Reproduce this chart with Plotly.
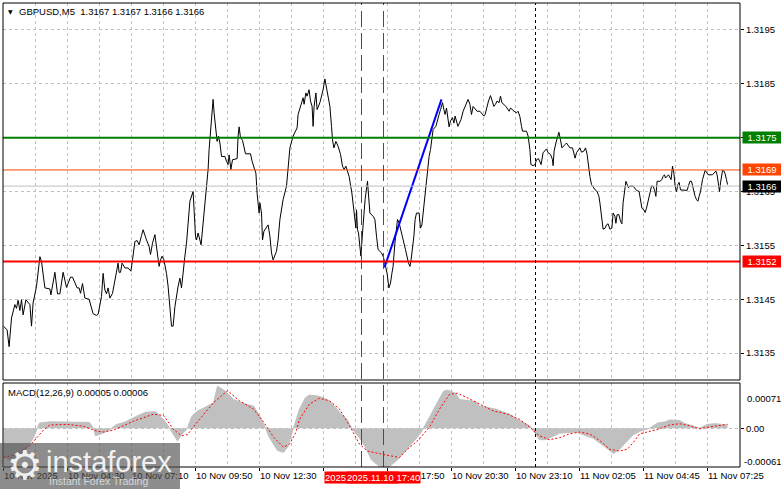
import plotly.graph_objects as go

# ---------------- data ----------------
# bar index (5-minute bars, 0 = 10 Nov 01:50) and close price
price_points = [
    (0, 1.31400), (1.8, 1.31393), (2.8, 1.31362), (4, 1.31415), (5.7, 1.31440), (6.5, 1.31433),
    (7.3, 1.31448), (8.2, 1.31429), (9, 1.31449), (9.8, 1.31421), (11.2, 1.31449), (13.2, 1.31440),
    (14, 1.31400), (14.8, 1.31443), (16.5, 1.31474), (17.3, 1.31505), (18.2, 1.31529), (19, 1.31520),
    (20.7, 1.31471), (23.2, 1.31469), (23.7, 1.31458), (25.7, 1.31500), (27, 1.31460), (28.2, 1.31460),
    (29.8, 1.31500), (31.5, 1.31472), (33.5, 1.31491), (34.5, 1.31491), (36.8, 1.31471), (37.8, 1.31471),
    (38.5, 1.31461), (39.5, 1.31479), (40.7, 1.31452), (42.8, 1.31450), (44.8, 1.31423), (46.5, 1.31420),
    (47.3, 1.31422), (49, 1.31455), (49.8, 1.31498), (50.7, 1.31467), (51.5, 1.31460), (52.3, 1.31471),
    (53.2, 1.31452), (54.5, 1.31461), (55.7, 1.31486), (57.3, 1.31517), (57.8, 1.31500), (58.5, 1.31500),
    (59.3, 1.31517), (60.7, 1.31508), (62.3, 1.31508), (63.7, 1.31502), (64.5, 1.31523), (65.7, 1.31557),
    (66.8, 1.31559), (67.8, 1.31551), (69, 1.31568), (69.8, 1.31579), (71.5, 1.31560), (72.8, 1.31548),
    (73.5, 1.31533), (74.5, 1.31554), (75.7, 1.31570), (76.5, 1.31548), (77, 1.31530), (77.8, 1.31511),
    (78.5, 1.31523), (79.3, 1.31530), (80.2, 1.31523), (81.5, 1.31498), (82.3, 1.31474), (83.2, 1.31436),
    (84, 1.31400), (84.8, 1.31400), (85.7, 1.31436), (87.3, 1.31474), (88.2, 1.31489), (89, 1.31471),
    (89.8, 1.31505), (90.7, 1.31530), (91.5, 1.31554), (92.3, 1.31598), (93.2, 1.31632), (94.8, 1.31650),
    (95.3, 1.31610), (96, 1.31567), (96.5, 1.31560), (97.3, 1.31573), (98.8, 1.31551), (99.8, 1.31591),
    (100.7, 1.31635), (101.5, 1.31672), (102.3, 1.31691), (102.8, 1.31728), (103.5, 1.31765), (104.2, 1.31802),
    (104.8, 1.31821), (105.3, 1.31796), (106.2, 1.31759), (106.8, 1.31743), (107.5, 1.31753), (108.2, 1.31740),
    (109, 1.31715), (110.7, 1.31715), (111.5, 1.31706), (112.3, 1.31700), (112.8, 1.31718), (113.7, 1.31691),
    (114.5, 1.31709), (116.8, 1.31711), (117.3, 1.31753), (117.8, 1.31770), (118.5, 1.31750), (119.5, 1.31745),
    (121, 1.31720), (123.5, 1.31720), (124.3, 1.31706), (125.2, 1.31697), (126.2, 1.31684), (126.8, 1.31647),
    (127.8, 1.31610), (128.2, 1.31629), (129, 1.31610), (129.5, 1.31560), (130.2, 1.31576), (132.3, 1.31588),
    (133.2, 1.31567), (134, 1.31536), (134.8, 1.31523), (136.5, 1.31539), (137.3, 1.31560), (138.2, 1.31598),
    (139.8, 1.31635), (141.5, 1.31660), (142.3, 1.31697), (143.2, 1.31731), (144.8, 1.31753), (146.2, 1.31766),
    (146.8, 1.31768), (147.3, 1.31793), (149, 1.31812), (149.8, 1.31824), (150.3, 1.31812), (151.2, 1.31833),
    (151.8, 1.31827), (152.8, 1.31839), (153.5, 1.31818), (154.3, 1.31808), (154.8, 1.31771), (155.3, 1.31808),
    (156.2, 1.31833), (156.8, 1.31802), (158.2, 1.31815), (159.8, 1.31839), (160.7, 1.31859), (161.5, 1.31843),
    (163.2, 1.31808), (164, 1.31771), (164.5, 1.31746), (165.2, 1.31731), (166.2, 1.31743), (167.3, 1.31734),
    (168.5, 1.31719), (169.5, 1.31697), (170.3, 1.31691), (171.2, 1.31697), (172.8, 1.31678), (174.2, 1.31647),
    (174.8, 1.31629), (175.7, 1.31598), (176.2, 1.31582), (176.5, 1.31616), (177, 1.31579), (177.5, 1.31573),
    (178.2, 1.31542), (178.7, 1.31530), (179.5, 1.31573), (180.2, 1.31610), (180.8, 1.31635), (182, 1.31669),
    (182.5, 1.31647), (183.2, 1.31610), (184.8, 1.31604), (185.7, 1.31598), (186.5, 1.31567), (187.3, 1.31542),
    (189, 1.31536), (189.8, 1.31530), (190.3, 1.31523), (191.2, 1.31505), (191.8, 1.31498), (192.7, 1.31471),
    (193.5, 1.31480), (194.2, 1.31498), (194.8, 1.31511), (195.7, 1.31554), (196.5, 1.31579), (197, 1.31598),
    (197.8, 1.31592), (199.5, 1.31567), (201, 1.31542), (202.5, 1.31517), (203.2, 1.31511), (203.7, 1.31520),
    (204.3, 1.31536), (205.2, 1.31567), (205.8, 1.31598), (206.5, 1.31610), (207.8, 1.31610), (208.5, 1.31582),
    (209.2, 1.31588), (209.8, 1.31610), (210.5, 1.31635), (211.2, 1.31666), (212, 1.31697), (212.8, 1.31715),
    (213.5, 1.31728), (214.2, 1.31753), (214.8, 1.31765), (216.2, 1.31771), (217, 1.31784), (217.8, 1.31793),
    (218.5, 1.31802), (219.5, 1.31815), (220.2, 1.31802), (220.8, 1.31793), (221.5, 1.31805), (222.3, 1.31784),
    (222.8, 1.31770), (223.5, 1.31781), (224.5, 1.31787), (225.2, 1.31777), (225.8, 1.31790), (227.2, 1.31771),
    (228.8, 1.31784), (229.8, 1.31799), (231.5, 1.31815), (232.3, 1.31821), (233.2, 1.31812), (234, 1.31793),
    (234.8, 1.31808), (236.8, 1.31799), (238.2, 1.31799), (240.2, 1.31790), (240.8, 1.31793), (241.5, 1.31805),
    (242.5, 1.31818), (243.5, 1.31828), (244.2, 1.31818), (245.2, 1.31808), (246, 1.31812), (246.8, 1.31818),
    (247.8, 1.31815), (248.5, 1.31827), (249.2, 1.31815), (251.2, 1.31808), (252.8, 1.31799), (253.5, 1.31805),
    (255.3, 1.31799), (256.5, 1.31796), (257.3, 1.31799), (258.2, 1.31789), (259, 1.31771), (259.5, 1.31762),
    (261.5, 1.31762), (262.3, 1.31753), (263.2, 1.31728), (263.7, 1.31700), (264.8, 1.31698), (265.8, 1.31700),
    (266.5, 1.31709), (267.5, 1.31711), (268.8, 1.31700), (269.8, 1.31722), (271.5, 1.31729), (272.3, 1.31722),
    (273.5, 1.31719), (274.5, 1.31709), (274.8, 1.31698), (275.3, 1.31725), (276.2, 1.31740), (277.7, 1.31760),
    (278.5, 1.31746), (279.2, 1.31731), (280.7, 1.31737), (281.5, 1.31740), (283.2, 1.31731), (284.5, 1.31731),
    (285.8, 1.31712), (286.5, 1.31722), (288.2, 1.31731), (289, 1.31723), (290.2, 1.31725), (291, 1.31731),
    (291.8, 1.31719), (292.3, 1.31700), (293.2, 1.31678), (294, 1.31663), (295.8, 1.31653), (296.8, 1.31650),
    (297.7, 1.31641), (298.2, 1.31629), (299, 1.31601), (299.8, 1.31580), (300.8, 1.31582), (301.5, 1.31588),
    (302.3, 1.31590), (303.2, 1.31580), (304.2, 1.31582), (304.8, 1.31610), (305.7, 1.31604), (306.2, 1.31591),
    (306.8, 1.31607), (307.7, 1.31607), (308.5, 1.31595), (309.2, 1.31590), (309.8, 1.31629), (310.5, 1.31653),
    (311.2, 1.31669), (312.5, 1.31657), (313.2, 1.31660), (314.8, 1.31660), (316.5, 1.31652), (317.8, 1.31650),
    (318.5, 1.31629), (319.2, 1.31619), (320.2, 1.31616), (320.8, 1.31611), (321.5, 1.31619), (322.5, 1.31635),
    (324, 1.31660), (324.8, 1.31660), (325.5, 1.31653), (326.2, 1.31641), (326.8, 1.31669), (328.2, 1.31669),
    (329.2, 1.31672), (329.8, 1.31678), (330.5, 1.31681), (331, 1.31675), (332.5, 1.31681), (333.8, 1.31672),
    (334.5, 1.31697), (335.2, 1.31684), (335.8, 1.31660), (336.5, 1.31650), (337.2, 1.31663), (337.8, 1.31667),
    (338.5, 1.31653), (341.8, 1.31652), (342.5, 1.31660), (343.2, 1.31669), (344, 1.31669), (344.5, 1.31660),
    (345.2, 1.31650), (345.8, 1.31641), (346.5, 1.31635), (347.2, 1.31632), (347.8, 1.31641), (348.5, 1.31650),
    (349.5, 1.31672), (350.2, 1.31684), (350.8, 1.31689), (351.5, 1.31686), (352.3, 1.31681), (354.5, 1.31681),
    (355.3, 1.31684), (356.2, 1.31688), (356.8, 1.31681), (357.5, 1.31660), (358, 1.31650), (358.5, 1.31666),
    (359, 1.31684), (359.5, 1.31689), (360.2, 1.31688), (360.8, 1.31683), (361.5, 1.31672), (362, 1.31663),
]
bar_index = [p[0] for p in price_points]
close = [p[1] for p in price_points]

# MACD main (histogram)
macd_points = [
    (0, -0.00045), (3, -0.0005), (8, -0.00045), (12, -0.0003), (15, -0.00015), (17, 0.0), (18, 0.00008),
    (23, 0.0001), (33, 0.0001), (43, 0.00009), (45, 0.0), (46, -0.00012), (48, -0.0001), (53, -0.00003),
    (56, 0.00005), (61, 0.0001), (66, 0.00018), (71, 0.00025), (76, 0.00026), (78, 0.0002), (81, 0.0001),
    (83, 0.0), (85, -0.0001), (87, -0.0002), (89, -0.0001), (92, 0.0), (94, 0.00018), (97, 0.00027),
    (101, 0.00033), (105, 0.0004), (107, 0.00066), (111, 0.00058), (115, 0.00045), (121, 0.00038),
    (125, 0.00035), (128, 0.0002), (131, 0.0), (133, -0.00015), (137, -0.00035), (140, -0.00038),
    (142, -0.0003), (144, -0.0001), (145, 0.0), (148, 0.0003), (151, 0.00048), (153, 0.00052), (158, 0.0005),
    (163, 0.00043), (168, 0.00025), (172, 0.00013), (174, 0.0), (178, -0.00015), (181, -0.0003),
    (184, -0.0005), (188, -0.0006), (193, -0.0006), (197, -0.0005), (201, -0.00035), (205, -0.0002),
    (208, -0.0001), (210, 0.0), (213, 0.00018), (217, 0.0004), (220, 0.00058), (222, 0.0006), (226, 0.00055),
    (228, 0.00045), (236, 0.00042), (238, 0.00035), (246, 0.0003), (253, 0.00022), (258, 0.00012),
    (263, 0.00004), (266, -0.0001), (268, -0.00018), (271, -0.00018), (278, -0.00008), (286, -0.00006),
    (288, -0.00008), (295, -0.00016), (301, -0.0003), (305, -0.0004), (308, -0.00033), (312, -0.0002),
    (315, -0.0001), (318, -0.00005), (323, 0.0), (327, 0.00008), (331, 0.0001), (333, 0.00013),
    (338, 0.00012), (341, 0.00007), (348, 0.0), (352, 0.00006), (356, 0.00007), (362, 0.00005),
]
macd_bar = [p[0] for p in macd_points]
macd_main = [p[1] for p in macd_points]

# MACD signal (dotted)
signal_points = [
    (0, -0.00046), (6, -0.00042), (13, -0.00028), (17, -0.00014), (20, -0.00003), (23, 0.00005),
    (32, 0.00006), (40, 0.00003), (47, -0.00005), (50, -0.00006), (55, -0.00003), (65, 0.00011),
    (75, 0.00022), (80, 0.0002), (85, -0.00002), (89, -0.00012), (92, -0.0001), (98, 0.00014),
    (105, 0.0004), (112, 0.00059), (118, 0.00043), (125, 0.0003), (130, 0.0001), (135, -0.00014),
    (140, -0.0003), (143, -0.00025), (146, -0.00008), (148, 0.00014), (153, 0.00038), (158, 0.00047),
    (163, 0.00043), (168, 0.0003), (173, 0.00004), (178, -0.00025), (182, -0.00036), (191, -0.00042),
    (198, -0.00046), (202, -0.00033), (208, -0.00017), (213, 0.00002), (218, 0.0003), (223, 0.00053),
    (227, 0.00055), (233, 0.00046), (238, 0.00038), (245, 0.00027), (252, 0.00022), (258, 0.00014),
    (263, 0.00002), (268, -0.00012), (273, -0.00018), (278, -0.00015), (283, -0.00009), (288, -0.00006),
    (293, -0.00009), (298, -0.00019), (303, -0.00033), (308, -0.00036), (312, -0.00033), (315, -0.00022),
    (318, -0.00009), (323, -0.00005), (328, -0.00001), (333, 0.00005), (338, 0.00007), (343, 0.00004),
    (348, -0.00001), (353, 0.00002), (358, 0.00004), (362, 0.00006),
]
signal_bar = [p[0] for p in signal_points]
signal_val = [p[1] for p in signal_points]

# trend line (blue)
trend_bar = [190.5, 219]
trend_price = [1.31509, 1.31821]

# horizontal levels
level_green = 1.3175
level_orange = 1.3169
level_bid = 1.3166
level_red = 1.3152

# vertical markers (bar index)
vline_red = [179, 190]
vline_red_text = ["2025.11.10 16:45", "2025.11.10 17:40"]
vline_day = 266

# axis ticks
price_ticks = [1.3135, 1.3145, 1.3155, 1.3165, 1.3175, 1.3185, 1.3195]
price_tick_text = ["1.3135", "1.3145", "1.3155", "1.3165", "", "1.3185", "1.3195"]
time_tick_bars = [0, 32, 64, 96, 128, 160, 192, 224, 256, 288, 320, 352]
time_tick_text = ["10 Nov 2025", "10 Nov 04:30", "10 Nov 07:10", "10 Nov 09:50", "10 Nov 12:30",
                  "10 Nov 15:10", "10 Nov 17:50", "10 Nov 20:30", "10 Nov 23:10", "11 Nov 02:05",
                  "11 Nov 04:45", "11 Nov 07:25"]
grid_bars = list(range(0, 369, 16))
macd_max, macd_min = 0.00071, -0.00061

title_text = "GBPUSD,M5  1.3167 1.3167 1.3166 1.3166"
macd_text = "MACD(12,26,9) 0.00005 0.00006"

# ---------------- figure ----------------
W, H = 781, 489
ML, MR, MT, MB = 3, 41, 3, 22
PH = H - MT - MB  # 464
main_dom = [(467 - 380) / PH, 1.0]
macd_dom = [0.0, (467 - 383) / PH]

FONT = "Liberation Sans, Arial, sans-serif"
GRID = "#c0c0c0"
GDASH = "3px,3px"

fig = go.Figure()
fig.add_trace(go.Scatter(x=bar_index, y=close, mode="lines",
                         line=dict(color="black", width=1), xaxis="x", yaxis="y", hoverinfo="skip"))
fig.add_trace(go.Scatter(x=trend_bar, y=trend_price, mode="lines",
                         line=dict(color="#0000ff", width=2), xaxis="x", yaxis="y", hoverinfo="skip"))
fig.add_trace(go.Scatter(x=macd_bar, y=macd_main, mode="lines", fill="tozeroy",
                         fillcolor="#c0c0c0", line=dict(color="#c0c0c0", width=1),
                         xaxis="x2", yaxis="y2", hoverinfo="skip"))
fig.add_trace(go.Scatter(x=signal_bar, y=signal_val, mode="lines",
                         line=dict(color="#ff0000", width=1, dash="2px,2px"),
                         xaxis="x2", yaxis="y2", hoverinfo="skip"))

xr = [-0.25, 368.25]
fig.update_layout(
    template="none",
    width=W, height=H,
    margin=dict(l=ML, r=MR, t=MT, b=MB, pad=0),
    paper_bgcolor="white", plot_bgcolor="white",
    showlegend=False,
    font=dict(family=FONT, size=9.5, color="black"),
    xaxis=dict(domain=[0, 1], anchor="y", range=xr, tickmode="array", tickvals=grid_bars,
               showticklabels=False, ticks="", showgrid=True, gridcolor=GRID, griddash=GDASH,
               gridwidth=1, zeroline=False, showline=False, automargin=False),
    xaxis2=dict(domain=[0, 1], anchor="y2", range=xr, tickmode="array", tickvals=time_tick_bars,
                ticktext=time_tick_text, ticks="outside", ticklen=3, tickcolor="black", tickangle=0,
                ticklabelposition="outside right", showgrid=True, gridcolor=GRID, griddash=GDASH,
                minor=dict(tickvals=[b for b in grid_bars if b not in time_tick_bars], showgrid=True,
                           gridcolor=GRID, griddash=GDASH, ticks=""),
                zeroline=False, showline=False, automargin=False,
                tickfont=dict(size=9.5, color="black")),
    yaxis=dict(domain=main_dom, anchor="x", range=[1.3130, 1.3200], side="right",
               tickmode="array", tickvals=price_ticks, ticktext=price_tick_text,
               ticks="outside", ticklen=3, tickcolor="black", showgrid=True, gridcolor=GRID,
               griddash=GDASH, zeroline=False, showline=False, automargin=False),
    yaxis2=dict(domain=macd_dom, anchor="x2", range=[macd_min, macd_max], side="right",
                tickmode="array", tickvals=[0], ticktext=["0.00"], ticks="outside", ticklen=3,
                tickcolor="black", showgrid=True, gridcolor=GRID, griddash=GDASH,
                zeroline=False, showline=False, automargin=False),
)

shapes = []
# horizontal levels
for lvl, col, wd in [(level_bid, "#c0c0c0", 1), (level_orange, "#ff4500", 1),
                     (level_green, "#008000", 2), (level_red, "#ff0000", 2)]:
    shapes.append(dict(type="line", xref="x domain", yref="y", x0=0, x1=1, y0=lvl, y1=lvl,
                       line=dict(color=col, width=wd), layer="above"))
# vertical markers
for vb in vline_red:
    shapes.append(dict(type="line", xref="x", yref="paper", x0=vb, x1=vb, y0=0, y1=1,
                       line=dict(color="#ff0000", width=1, dash="16px,6px"), layer="above"))
shapes.append(dict(type="line", xref="x", yref="paper", x0=vline_day, x1=vline_day, y0=0, y1=1,
                   line=dict(color="black", width=1, dash="3px,3px"), layer="above"))
# panel borders
shapes.append(dict(type="rect", xref="x domain", yref="y domain", x0=0, x1=1, y0=0, y1=1,
                   line=dict(color="black", width=1), layer="above"))
shapes.append(dict(type="rect", xref="x2 domain", yref="y2 domain", x0=0, x1=1, y0=0, y1=1,
                   line=dict(color="black", width=1), layer="above"))
# watermark box
px = lambda X: (X - ML) / (W - ML - MR)
py = lambda Y: (H - MB - Y) / PH
shapes.append(dict(type="rect", xref="paper", yref="paper", x0=px(0), x1=px(180), y0=py(489), y1=py(443),
                   fillcolor="rgba(80,80,80,0.65)", line=dict(width=0), layer="above"))
fig.update_layout(shapes=shapes)

ann = []
# price label boxes on the right
for lvl, col in [(level_green, "#008000"), (level_orange, "#ff4500"), (level_bid, "black"), (level_red, "#ff0000")]:
    ann.append(dict(x=1, xref="paper", y=lvl, yref="y", xanchor="left", yanchor="middle", xshift=2,
                    text=f"{lvl:.4f}", showarrow=False, bgcolor=col, borderpad=0, width=38, height=11,
                    align="center", font=dict(color="white", size=9.5, family=FONT)))
# MACD scale labels
ann.append(dict(x=1, xref="paper", y=py(398), yref="paper", xanchor="left", yanchor="middle", xshift=5,
                text=f"{macd_max:.5f}", showarrow=False, font=dict(size=9.5)))
ann.append(dict(x=1, xref="paper", y=py(461), yref="paper", xanchor="left", yanchor="middle", xshift=2,
                text=f"{macd_min:.5f}", showarrow=False, font=dict(size=9.5)))
# red time labels under vertical lines
for vb, txt in zip(vline_red, vline_red_text):
    ann.append(dict(x=vb, xref="x2", y=py(471), yref="paper", xanchor="center", yanchor="top",
                    text=txt, showarrow=False, bgcolor="#ff0000", borderpad=0, height=11,
                    font=dict(color="white", size=9.5, family=FONT)))
# titles
ann.append(dict(x=px(6), xref="paper", y=py(11), yref="paper", xanchor="left", yanchor="middle",
                text="▼", showarrow=False, font=dict(size=6, color="black", family="DejaVu Sans")))
ann.append(dict(x=px(17), xref="paper", y=py(11), yref="paper", xanchor="left", yanchor="middle",
                text=title_text, showarrow=False, font=dict(size=9.5, color="black")))
ann.append(dict(x=px(6), xref="paper", y=py(392), yref="paper", xanchor="left", yanchor="middle",
                text=macd_text, showarrow=False, font=dict(size=9.5, color="black")))
# watermark text
ann.append(dict(x=px(25), xref="paper", y=py(465), yref="paper", xanchor="center", yanchor="middle",
                text="⚙", showarrow=False, font=dict(size=40, color="rgba(255,255,255,0.9)", family="DejaVu Sans")))
ann.append(dict(x=px(44), xref="paper", y=py(462), yref="paper", xanchor="left", yanchor="middle",
                text="instaforex", showarrow=False, font=dict(size=29, color="rgba(255,255,255,0.9)", family=FONT)))
ann.append(dict(x=px(47), xref="paper", y=py(481), yref="paper", xanchor="left", yanchor="middle",
                text="Instant Forex Trading", showarrow=False,
                font=dict(size=10.5, color="rgba(230,230,230,0.85)", family=FONT)))
fig.update_layout(annotations=ann)

fig.write_html("out.html", config={"displayModeBar": False},
               post_script="document.body.style.margin='0';document.body.style.padding='0';")
